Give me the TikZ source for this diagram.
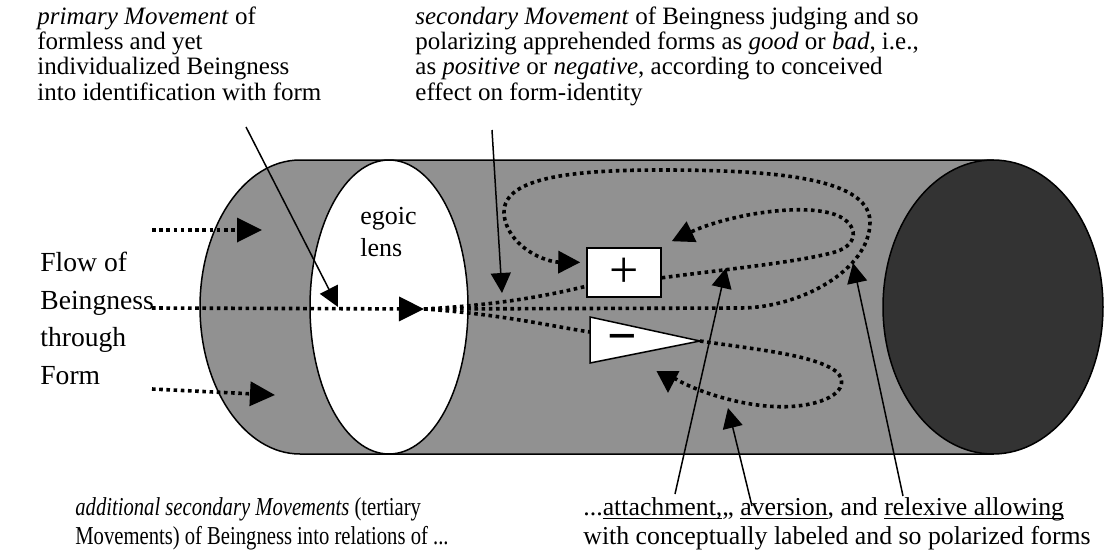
\documentclass[tikz,border=0pt]{standalone}
\usepackage{fontspec}
\usepackage{graphicx}
\setmainfont{Liberation Serif}
\newfontfamily\narrowserif[FakeStretch=0.8]{Liberation Serif}
\usetikzlibrary{arrows.meta,calc}

\newcommand{\ulword}[1]{\underline{\smash{#1}}}

\begin{document}
\begin{tikzpicture}[x=0.5pt, y=-0.5pt,
    tube/.style={draw, line width=0.75pt, fill=black!43},
    lens/.style={draw, line width=0.75pt, fill=white},
    dotline/.style={line width=1.8pt, dash pattern=on 1.8pt off 1.8pt},
    flowarrow/.style={dotline, -{Triangle[length=12.5pt,width=12pt]}},
    looparrow/.style={dotline, -{Triangle[length=11pt,width=11pt]}},
    pointer/.style={line width=0.75pt, -{Triangle[length=10pt,width=10pt]}},
    note/.style={inner sep=0pt, anchor=north west, align=left, font=\fontsize{12.5}{12.7}\selectfont},
    plusbox/.style={draw, line width=0.75pt, fill=white, inner sep=0pt, minimum width=37pt, minimum height=24.5pt, font=\fontsize{26}{26}\selectfont}
]
\useasboundingbox (0,0) rectangle (1105,552);

% Cylinder
\draw[tube] (300,160) arc[start angle=270, end angle=90, x radius=100, y radius=147] -- (993,454) -- (993,160) -- cycle;
\draw[lens] (389,307) ellipse[x radius=79, y radius=147];
\draw[line width=0.75pt, fill=black!80] (993,307) ellipse[x radius=110, y radius=147];

% Texts
\node[note] (primary) at (37,6) {\textit{primary Movement} of\\formless and yet\\individualized Beingness\\into identification with form};
\node[note] (secondary) at (415,6) {\textit{secondary Movement} of Beingness judging and so\\polarizing apprehended forms as \textit{good} or \textit{bad}, i.e.,\\as \textit{positive} or \textit{negative}, according to conceived\\effect on form-identity};
\node[note, font=\fontsize{13.8}{18.75}\selectfont] (flow) at (40,252) {Flow of\\Beingness\\through\\Form};
\node[note, font=\fontsize{13}{16}\selectfont] (egoic) at (360,207) {egoic\\lens};
\node[note, font=\narrowserif\fontsize{12.9}{14.5}\selectfont] (tertiary) at (75,497) {\textit{additional secondary Movements} (tertiary\\Movements) of Beingness into relations of ...};
\node[note, font=\fontsize{12.9}{14.5}\selectfont] (relations) at (583,497) {...\ulword{attachment,},, \ulword{aversion}, and \ulword{relexive allowing}\\with conceptually labeled and so polarized forms};

% Polarized forms
\node[plusbox] (plus) at (624,272.5) {+};
\draw[lens] (590,317) -- (700,341) coordinate (mtip) -- (590,363) -- cycle;
\node[font=\bfseries\fontsize{26}{26}\selectfont, inner sep=0pt] (minus) at (622,344) {−};

% Flow of Beingness
\coordinate (fan) at (424,309);
\coordinate (ftop) at (152,230);
\coordinate (fmid) at (152,308);
\coordinate (fbot) at (152,389);
\coordinate (ftopend) at (262,230);
\coordinate (fbotend) at (275,395);
\draw[flowarrow] (ftop) -- (ftopend);
\draw[flowarrow] (fmid) -- (fan);
\draw[flowarrow] (fbot) -- (fbotend);

% Loops
\draw[dotline] (fan) .. controls (500,305) and (550,295) .. (plus.200);
\draw[dotline] (fan) .. controls (500,314) and (550,326) .. (590,332);
\draw[looparrow, shorten >=3pt] (fan) -- (740,308) .. controls (800,308) and (870,270) .. (870,222)
  .. controls (870,175) and (760,170) .. (660,170) .. controls (560,170) and (495,180) .. (505,220)
  .. controls (512,248) and (545,262) .. (plus.165);
\draw[looparrow] (plus.-8) .. controls (720,270) and (800,262) .. (835,252)
  .. controls (862,244) and (858,220) .. (830,213) .. controls (790,203) and (720,218) .. ([shift={(5pt,3pt)}]plus.north east);
\coordinate (lowtip) at (668,393);
\draw[looparrow] (mtip) .. controls (760,350) and (815,355) .. (837,372)
  .. controls (850,386) and (835,402) .. (797,406) .. controls (740,412) and (668,380) .. (lowtip);

% Pointers
\coordinate (primstart) at (246,127);
\coordinate (primtip) at (338,307);
\coordinate (secstart) at (492,130);
\coordinate (sectip) at (502,293);
\coordinate (attstart) at (675,494);
\coordinate (atttip) at (726,268);
\coordinate (avstart) at (752,506);
\coordinate (avtip) at (728,408);
\coordinate (relstart) at (903,496);
\coordinate (reltip) at (853,263);
\draw[pointer] (primstart) -- (primtip);
\draw[pointer] (secstart) -- (sectip);
\draw[pointer] (attstart) -- (atttip);
\draw[pointer] (avstart) -- (avtip);
\draw[pointer] (relstart) -- (reltip);

\end{tikzpicture}
\end{document}
